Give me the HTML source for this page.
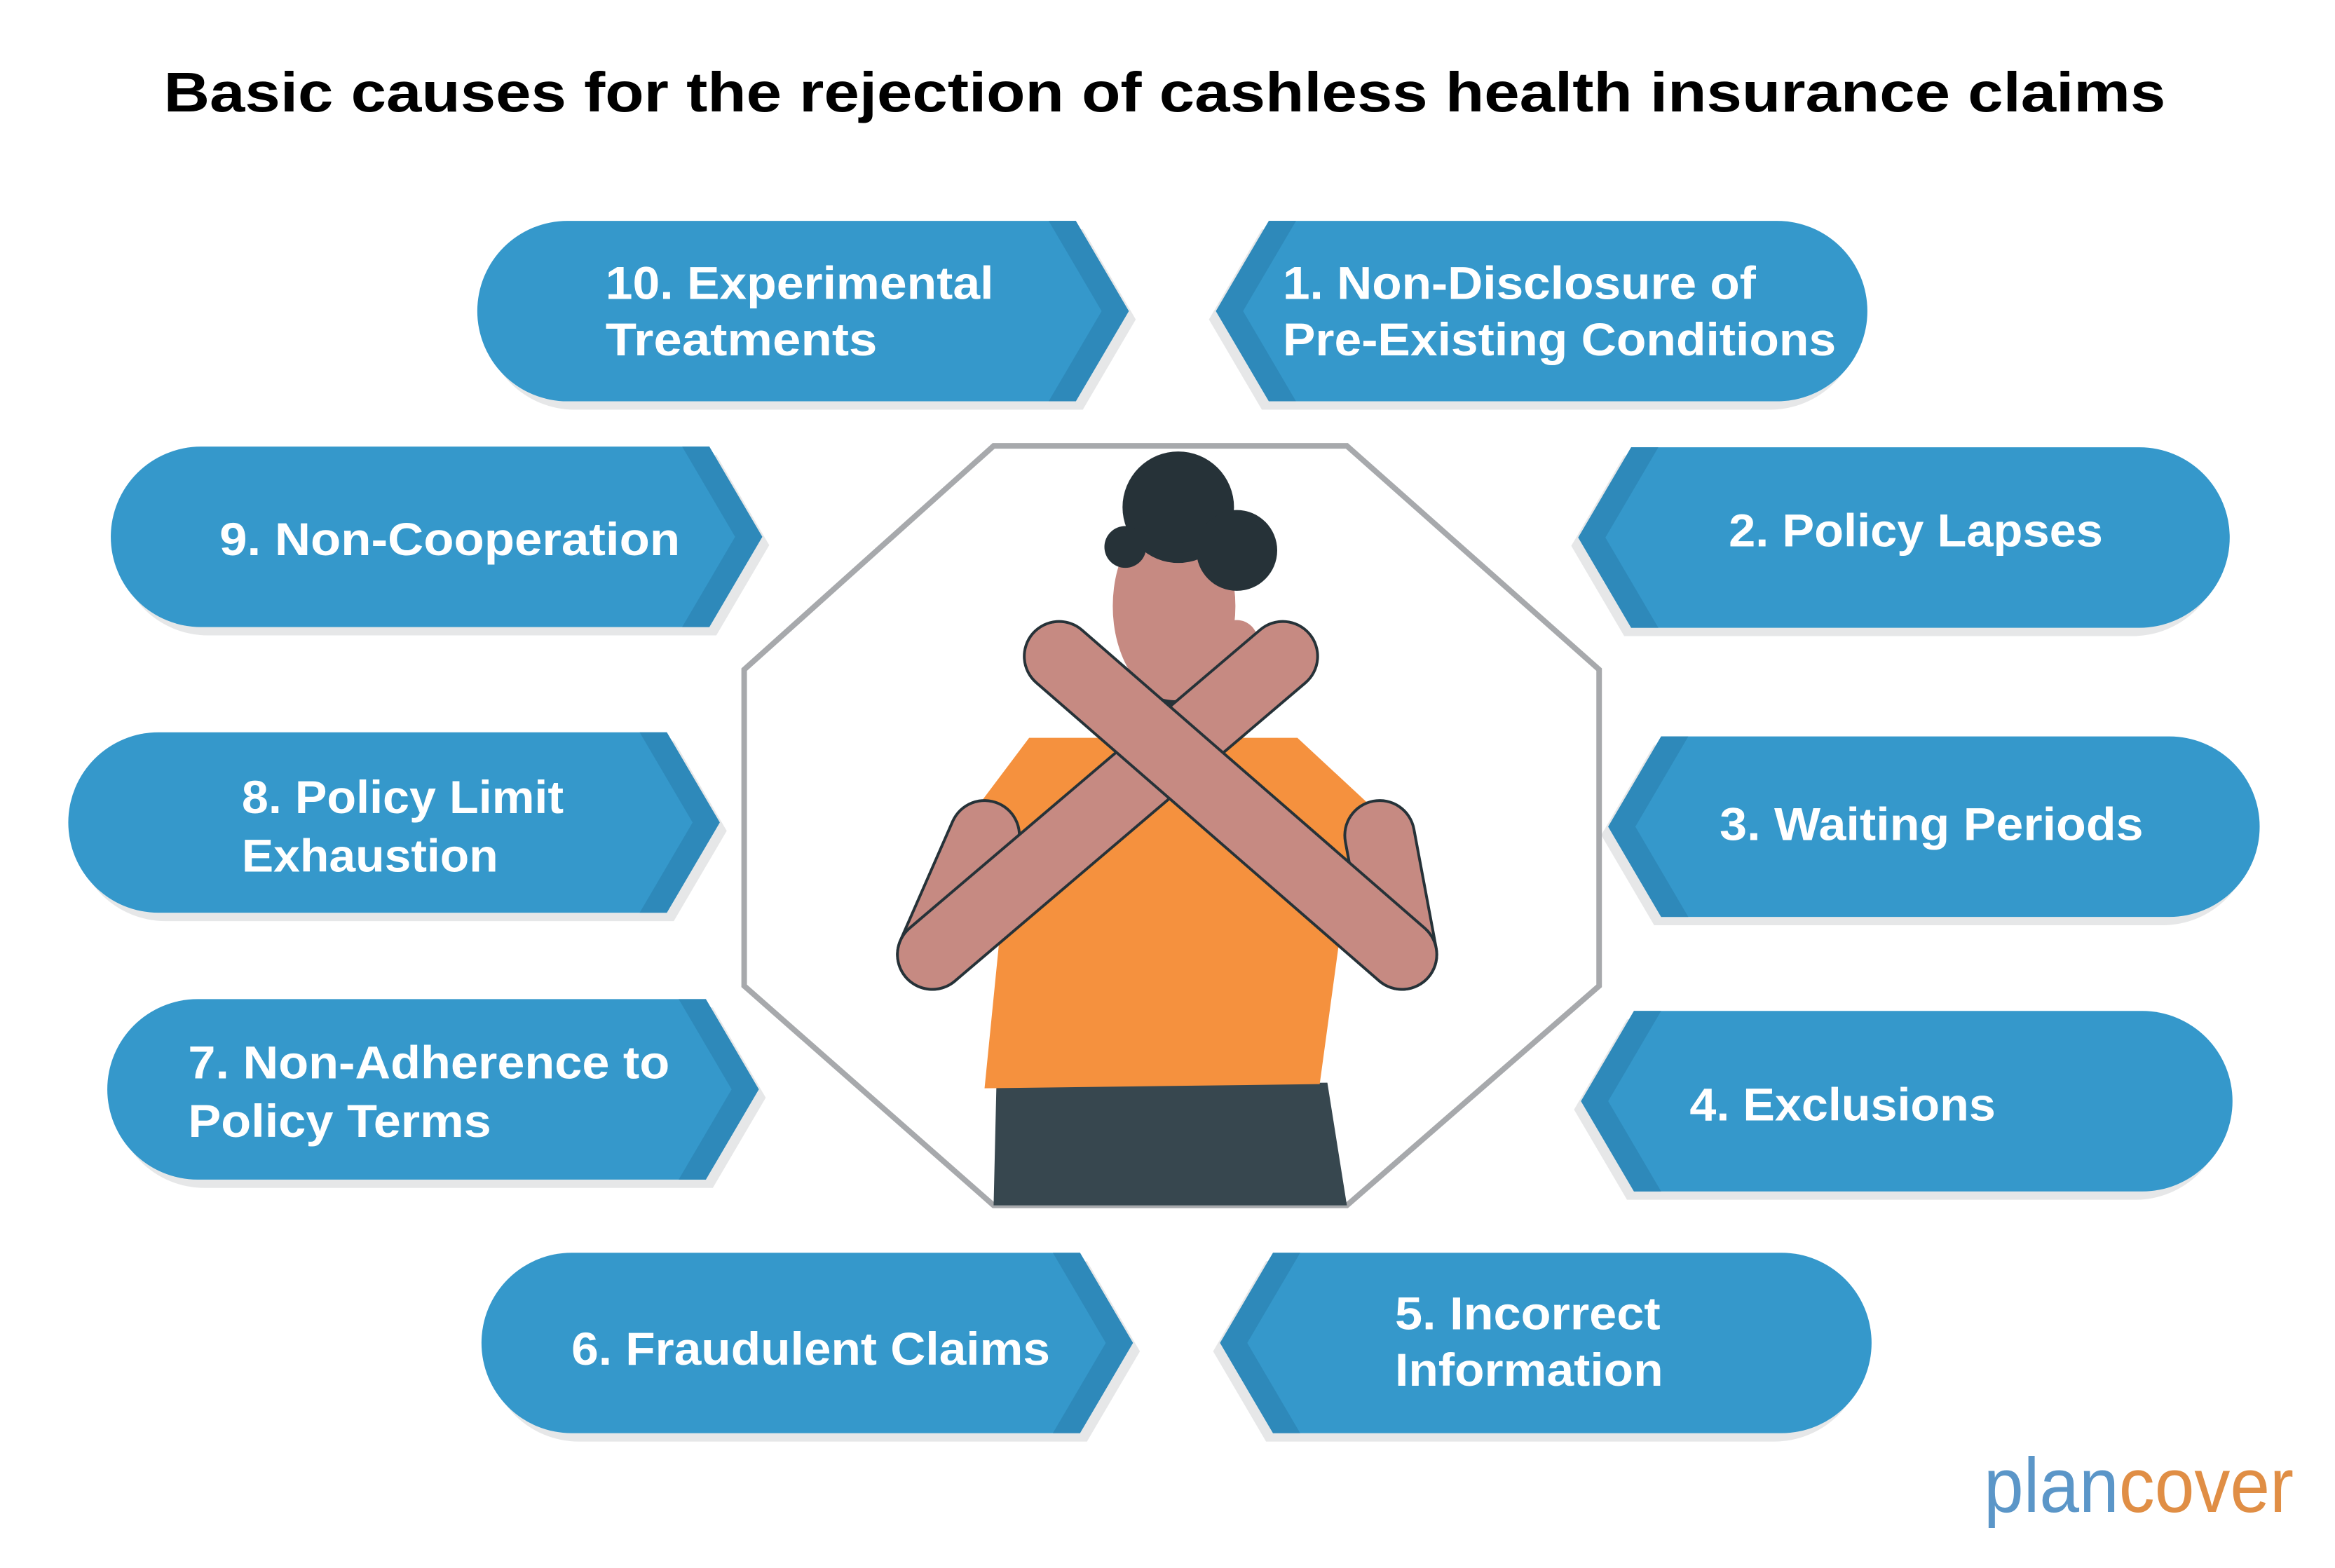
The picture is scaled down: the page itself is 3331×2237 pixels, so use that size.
<!DOCTYPE html>
<html><head><meta charset="utf-8"><style>
html,body{margin:0;padding:0;background:#fff;}
svg{display:block;}
text{font-family:"Liberation Sans",sans-serif;}
.l{font-size:66px;font-weight:bold;fill:#fff;}
</style></head><body>
<svg width="3331" height="2237" viewBox="0 0 3331 2237" xmlns="http://www.w3.org/2000/svg">
<defs>
<g id="pr">
<path transform="translate(10,12)" fill="#e6e7e8" d="M129.5,0 H859 L935,129.5 L859,259 H129.5 A129.5 129.5 0 0 1 129.5,0 Z"/>
<path fill="#3598cb" d="M129.5,0 H859 L935,129.5 L859,259 H129.5 A129.5 129.5 0 0 1 129.5,0 Z"/>
<path fill="#2e89ba" d="M820,0 H859 L935,129.5 L859,259 H820 L896,129.5 Z"/>
</g>
</defs>
<g transform="scale(0.994)">
<text x="235" y="160" font-size="80" font-weight="bold" fill="#000" textLength="2873" lengthAdjust="spacingAndGlyphs">Basic causes for the rejection of cashless health insurance claims</text>

<use href="#pr" transform="translate(685,317)"/>
<use href="#pr" transform="translate(2680,317) scale(-1,1)"/>
<use href="#pr" transform="translate(159,641)"/>
<use href="#pr" transform="translate(3200,642) scale(-1,1)"/>
<use href="#pr" transform="translate(98,1051)"/>
<use href="#pr" transform="translate(3243,1057) scale(-1,1)"/>
<use href="#pr" transform="translate(154,1434)"/>
<use href="#pr" transform="translate(3204,1451) scale(-1,1)"/>
<use href="#pr" transform="translate(691,1798)"/>
<use href="#pr" transform="translate(2686,1798) scale(-1,1)"/>

<text class="l" x="869" y="429" textLength="557" lengthAdjust="spacingAndGlyphs">10. Experimental</text>
<text class="l" x="869" y="510" textLength="390" lengthAdjust="spacingAndGlyphs">Treatments</text>
<text class="l" x="1841" y="429" textLength="679" lengthAdjust="spacingAndGlyphs">1. Non-Disclosure of</text>
<text class="l" x="1841" y="510" textLength="794" lengthAdjust="spacingAndGlyphs">Pre-Existing Conditions</text>
<text class="l" x="315" y="797" textLength="661" lengthAdjust="spacingAndGlyphs">9. Non-Cooperation</text>
<text class="l" x="2481" y="784" textLength="537" lengthAdjust="spacingAndGlyphs">2. Policy Lapses</text>
<text class="l" x="347" y="1167" textLength="462" lengthAdjust="spacingAndGlyphs">8. Policy Limit</text>
<text class="l" x="347" y="1251" textLength="368" lengthAdjust="spacingAndGlyphs">Exhaustion</text>
<text class="l" x="2468" y="1206" textLength="608" lengthAdjust="spacingAndGlyphs">3. Waiting Periods</text>
<text class="l" x="270" y="1548" textLength="691" lengthAdjust="spacingAndGlyphs">7. Non-Adherence to</text>
<text class="l" x="270" y="1632" textLength="435" lengthAdjust="spacingAndGlyphs">Policy Terms</text>
<text class="l" x="2425" y="1608" textLength="439" lengthAdjust="spacingAndGlyphs">4. Exclusions</text>
<text class="l" x="820" y="1959" textLength="687" lengthAdjust="spacingAndGlyphs">6. Fraudulent Claims</text>
<text class="l" x="2002" y="1908" textLength="381" lengthAdjust="spacingAndGlyphs">5. Incorrect</text>
<text class="l" x="2002" y="1989" textLength="385" lengthAdjust="spacingAndGlyphs">Information</text>

<polygon points="1426,640 1933,640 2295,961 2295,1415 1933,1730 1426,1730 1068,1415 1068,961" fill="#fff" stroke="#a7a9ac" stroke-width="8"/>

<polygon points="1430,1558 1905,1554 1933,1730 1426,1730" fill="#37474f"/>
<polygon points="1477,1059 1862,1059 2001,1188 1937,1241 1894,1556 1413,1562 1445,1241 1380,1188" fill="#f5913e"/>
<ellipse cx="1691" cy="1005" rx="45" ry="30" fill="#263238"/>
<ellipse cx="1685" cy="870" rx="88" ry="135" fill="#c68a82"/>
<circle cx="1775" cy="920" r="30" fill="#c68a82"/>
<circle cx="1691" cy="728" r="80" fill="#263238"/>
<circle cx="1775" cy="790" r="58" fill="#263238"/>
<circle cx="1615" cy="785" r="30" fill="#263238"/>
<g stroke-linecap="round" fill="none">
<line x1="1338" y1="1370" x2="1413" y2="1199" stroke="#263238" stroke-width="104"/>
<line x1="2012" y1="1370" x2="1980" y2="1199" stroke="#263238" stroke-width="104"/>
<line x1="1338" y1="1370" x2="1413" y2="1199" stroke="#c68a82" stroke-width="96"/>
<line x1="2012" y1="1370" x2="1980" y2="1199" stroke="#c68a82" stroke-width="96"/>
<line x1="1841" y1="942" x2="1338" y2="1370" stroke="#263238" stroke-width="104"/>
<line x1="1841" y1="942" x2="1338" y2="1370" stroke="#c68a82" stroke-width="96"/>
<line x1="1520" y1="942" x2="2012" y2="1370" stroke="#263238" stroke-width="104"/>
<line x1="1520" y1="942" x2="2012" y2="1370" stroke="#c68a82" stroke-width="96"/>
</g>
</g>
<text x="2830" y="2157" font-size="110" fill="#5b96c8" textLength="442" lengthAdjust="spacingAndGlyphs"><tspan>plan</tspan><tspan fill="#e08e45">cover</tspan></text>
</svg>
</body></html>
